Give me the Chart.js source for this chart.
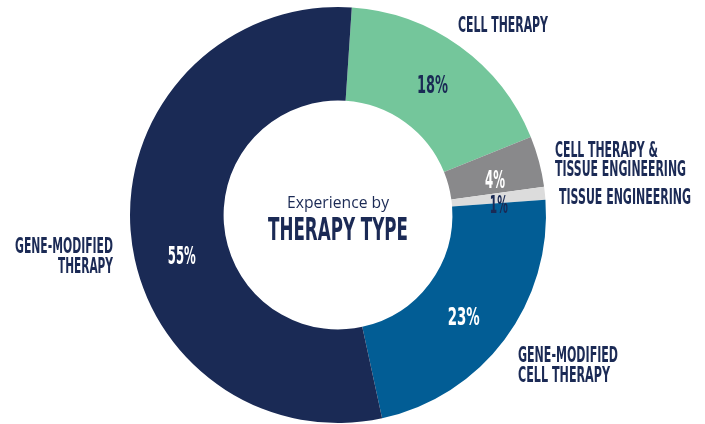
<!DOCTYPE html>
<html>
<head>
<meta charset="utf-8">
<script src="https://cdn.jsdelivr.net/npm/chart.js@4"></script>
<style>
  body { margin: 0; background: #fff; }
  canvas { display: block; }
</style>
</head>
<body>
<canvas id="therapyChart" width="705" height="424"></canvas>
<script>
// Chart data
const categories = ["Cell Therapy", "Cell Therapy & Tissue Engineering", "Tissue Engineering", "Gene-Modified Cell Therapy", "Gene-Modified Therapy"];
const shares = [18, 4, 1, 23, 55];
const sliceColors = ["#74c69b", "#89898b", "#dcdcdc", "#025d95", "#1a2a55"];
const percentColors = ["#1a2a55", "#ffffff", "#1a2a55", "#ffffff", "#ffffff"];

const navy = "#1b2a55";
const condensed = "'Liberation Sans Narrow', 'DejaVu Sans Condensed', sans-serif";

// Outside category labels (text, align, x, baseline y, width)
const outsideLabels = [
  ["CELL THERAPY", "left", 458, 32, 90],
  ["CELL THERAPY &", "left", 555, 157, 103],
  ["TISSUE ENGINEERING", "left", 555, 176, 131],
  ["TISSUE ENGINEERING", "left", 559, 204, 132],
  ["GENE-MODIFIED", "right", 113, 253, 98],
  ["THERAPY", "right", 113, 273, 55],
  ["GENE-MODIFIED", "left", 518, 362, 100],
  ["CELL THERAPY", "left", 518, 382, 92],
];

// Draws the percentages on the ring and all the annotation text
const labelPlugin = {
  id: "therapyLabels",
  afterDatasetsDraw(chart) {
    const ctx = chart.ctx;
    const meta = chart.getDatasetMeta(0);
    const widths = [31, 20, 18, 32, 28];
    const nudge = [0, 2, 2, 2, -10]; // degrees
    ctx.save();
    ctx.textAlign = "center";
    ctx.textBaseline = "alphabetic";
    ctx.font = "bold 25px " + condensed;
    meta.data.forEach((arc, i) => {
      const p = arc.getProps(["x", "y", "startAngle", "endAngle", "innerRadius", "outerRadius"]);
      const a = (p.startAngle + p.endAngle) / 2 + nudge[i] * Math.PI / 180;
      const r = (p.innerRadius + p.outerRadius) / 2;
      const x = p.x + Math.cos(a) * r;
      const y = p.y + Math.sin(a) * r;
      ctx.fillStyle = percentColors[i];
      ctx.fillText(shares[i] + "%", x, y + 9, widths[i]);
    });

    ctx.fillStyle = navy;
    ctx.font = "bold 21px " + condensed;
    outsideLabels.forEach(([text, align, x, y, w]) => {
      ctx.textAlign = align;
      ctx.fillText(text, x, y, w);
    });

    // Centre title
    const cx = meta.data[0].x;
    ctx.textAlign = "center";
    ctx.font = "16px 'Open Sans', sans-serif";
    ctx.fillText("Experience by", cx, 208, 102);
    ctx.font = "bold 32px " + condensed;
    ctx.fillText("THERAPY TYPE", cx, 240, 140);
    ctx.restore();
  },
};

new Chart(document.getElementById("therapyChart"), {
  type: "doughnut",
  data: {
    labels: categories,
    datasets: [
      {
        data: shares,
        backgroundColor: sliceColors,
        borderWidth: 0,
      },
    ],
  },
  options: {
    responsive: false,
    animation: false,
    rotation: 3.8,
    cutout: "55%",
    layout: { padding: { left: 130, right: 159, top: 7, bottom: 1 } },
    plugins: {
      legend: { display: false },
      tooltip: { enabled: false },
    },
  },
  plugins: [labelPlugin],
});
</script>
</body>
</html>
